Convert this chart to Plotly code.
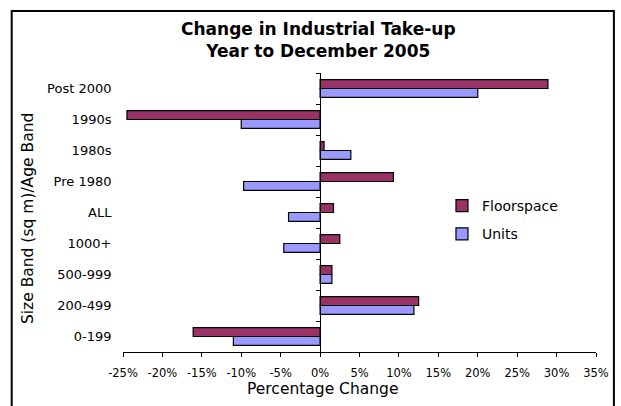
import plotly.graph_objects as go

# Size / age bands, listed bottom to top as they appear on the axis
bands = ["0-199", "200-499", "500-999", "1000+", "ALL",
         "Pre 1980", "1980s", "1990s", "Post 2000"]

# Year-on-year change in take-up (%)
floorspace = [-16.1, 12.5, 1.5, 2.5, 1.7, 9.3, 0.5, -24.5, 28.9]
units = [-11.0, 11.9, 1.5, -4.6, -4.0, -9.7, 3.9, -10.0, 20.0]

# Percentage axis ticks
x_ticks = [-25, -20, -15, -10, -5, 0, 5, 10, 15, 20, 25, 30, 35]
x_tick_text = ["-25%", "-20%", "-15%", "-10%", "-5%", "0%", "5%",
               "10%", "15%", "20%", "25%", "30%", "35%"]

FONT = "DejaVu Sans, Arial, sans-serif"
W, H = 621, 406
L, R, T, B = 123, 22, 73, 54
plot_w, plot_h = W - L - R, H - T - B


def px_x(p):
    return (p - L) / plot_w


def px_y(p):
    return (H - B - p) / plot_h


fig = go.Figure()

# Units first so Floorspace sits on top within each band
fig.add_trace(go.Bar(
    y=bands, x=units, orientation="h", name="Units",
    marker=dict(color="#9999FF", line=dict(color="#000000", width=1.2)),
    legendgroup="u", legendrank=2,
))
fig.add_trace(go.Bar(
    y=bands, x=floorspace, orientation="h", name="Floorspace",
    marker=dict(color="#993366", line=dict(color="#000000", width=1.2)),
    legendgroup="f", legendrank=1,
))

x_min, x_max = x_ticks[0], x_ticks[-1]

fig.update_layout(
    width=W, height=H,
    margin=dict(l=L, r=R, t=T, b=B),
    paper_bgcolor="white", plot_bgcolor="white",
    barmode="group", bargap=1.5 / 3.5, bargroupgap=0,
    font=dict(family=FONT, color="#000000"),
    xaxis=dict(
        range=[x_min, x_max], tickvals=x_ticks, ticktext=x_tick_text,
        showgrid=False, zeroline=False,
        showline=True, linecolor="#000000", linewidth=1,
        ticks="outside", ticklen=4, tickcolor="#000000", tickwidth=1,
        ticklabelstandoff=6,
        tickfont=dict(family=FONT, size=11.5, color="#000000"),
    ),
    yaxis=dict(
        type="category", categoryorder="array", categoryarray=bands,
        range=[-0.5, len(bands) - 0.5],
        anchor="free", position=(0 - x_min) / (x_max - x_min),
        showgrid=False, zeroline=False,
        showline=True, linecolor="#000000", linewidth=1,
        ticks="outside", tickson="boundaries", ticklen=4,
        tickcolor="#000000", tickwidth=1,
        ticklabelstandoff=206,
        tickfont=dict(family=FONT, size=13, color="#000000"),
    ),
    legend=dict(
        x=px_x(444), y=px_y(190), xanchor="left", yanchor="top",
        bgcolor="rgba(0,0,0,0)", tracegroupgap=7,
        font=dict(family=FONT, size=14, color="#000000"),
    ),
    showlegend=True,
)

# Two-line chart title
fig.add_annotation(
    text="<b>Change in Industrial Take-up<br>Year to December 2005</b>",
    xref="paper", yref="paper", x=px_x(320), y=px_y(40),
    xanchor="center", yanchor="middle", showarrow=False,
    font=dict(family=FONT, size=17, color="#000000"),
)

# Axis titles
fig.add_annotation(
    text="Percentage Change", xref="paper", yref="paper",
    x=px_x(324), y=px_y(389), xanchor="center", yanchor="middle",
    showarrow=False, font=dict(family=FONT, size=15.5, color="#000000"),
)
fig.add_annotation(
    text="Size Band (sq m)/Age Band", xref="paper", yref="paper",
    x=px_x(27), y=px_y(218.5), xanchor="center", yanchor="middle",
    textangle=-90, showarrow=False,
    font=dict(family=FONT, size=15.5, color="#000000"),
)

# Chart-area frame
fig.add_shape(
    type="rect", xref="paper", yref="paper",
    x0=px_x(11), x1=px_x(617), y0=px_y(430), y1=px_y(11),
    line=dict(color="#000000", width=2), fillcolor="rgba(0,0,0,0)",
    layer="below",
)

fig.write_html("out.html")
